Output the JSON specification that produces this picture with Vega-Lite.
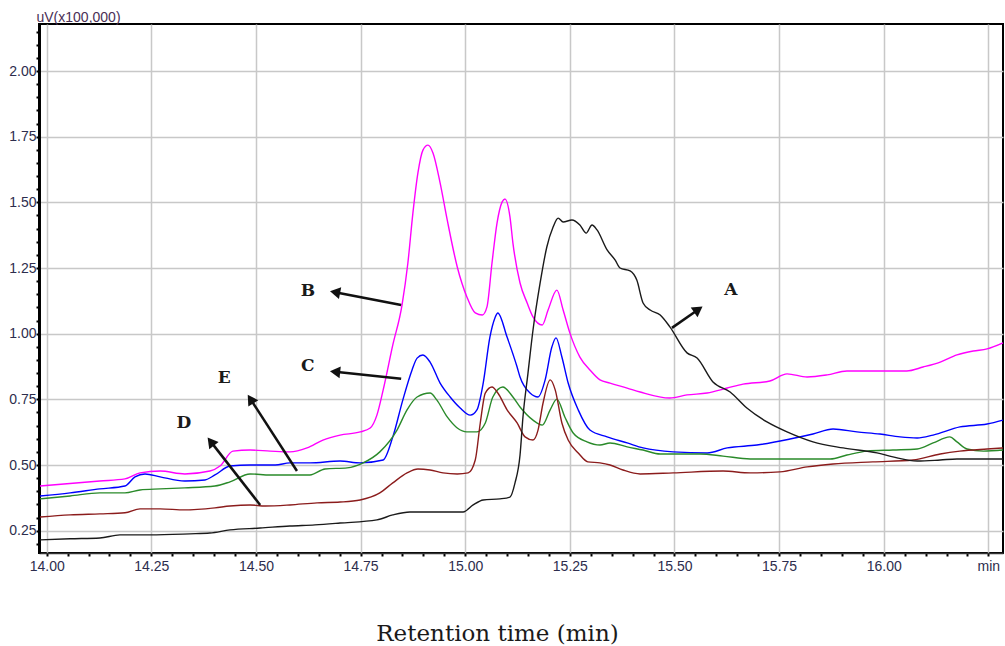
{
  "$schema": "https://vega.github.io/schema/vega-lite/v6.json",
  "autosize": {"type": "none"},
  "padding": {"left": 39, "top": 24, "right": 2, "bottom": 93},
  "width": 964,
  "height": 529,
  "background": "white",
  "config": {"view": {"stroke": "black", "strokeWidth": 2}},
  "datasets": {
    "curves": [
      {"s":"B","t":13.984,"v":0.420},{"s":"B","t":14.127,"v":0.439},{"s":"B","t":14.187,"v":0.447},{"s":"B","t":14.223,"v":0.470},{"s":"B","t":14.271,"v":0.477},{"s":"B","t":14.330,"v":0.466},{"s":"B","t":14.390,"v":0.477},{"s":"B","t":14.414,"v":0.496},{"s":"B","t":14.445,"v":0.553},{"s":"B","t":14.486,"v":0.557},{"s":"B","t":14.534,"v":0.553},{"s":"B","t":14.581,"v":0.550},{"s":"B","t":14.622,"v":0.565},{"s":"B","t":14.660,"v":0.595},{"s":"B","t":14.701,"v":0.614},{"s":"B","t":14.749,"v":0.626},{"s":"B","t":14.773,"v":0.641},{"s":"B","t":14.789,"v":0.690},{"s":"B","t":14.804,"v":0.786},{"s":"B","t":14.827,"v":0.957},{"s":"B","t":14.849,"v":1.109},{"s":"B","t":14.863,"v":1.269},{"s":"B","t":14.875,"v":1.459},{"s":"B","t":14.887,"v":1.612},{"s":"B","t":14.899,"v":1.699},{"s":"B","t":14.911,"v":1.718},{"s":"B","t":14.923,"v":1.688},{"s":"B","t":14.940,"v":1.574},{"s":"B","t":14.957,"v":1.433},{"s":"B","t":14.981,"v":1.254},{"s":"B","t":15.004,"v":1.140},{"s":"B","t":15.024,"v":1.079},{"s":"B","t":15.041,"v":1.071},{"s":"B","t":15.052,"v":1.102},{"s":"B","t":15.064,"v":1.269},{"s":"B","t":15.076,"v":1.421},{"s":"B","t":15.088,"v":1.501},{"s":"B","t":15.095,"v":1.513},{"s":"B","t":15.107,"v":1.444},{"s":"B","t":15.114,"v":1.345},{"s":"B","t":15.131,"v":1.193},{"s":"B","t":15.148,"v":1.117},{"s":"B","t":15.162,"v":1.064},{"s":"B","t":15.184,"v":1.033},{"s":"B","t":15.198,"v":1.090},{"s":"B","t":15.219,"v":1.166},{"s":"B","t":15.234,"v":1.090},{"s":"B","t":15.250,"v":1.003},{"s":"B","t":15.274,"v":0.911},{"s":"B","t":15.298,"v":0.862},{"s":"B","t":15.322,"v":0.824},{"s":"B","t":15.346,"v":0.812},{"s":"B","t":15.387,"v":0.793},{"s":"B","t":15.418,"v":0.778},{"s":"B","t":15.489,"v":0.755},{"s":"B","t":15.530,"v":0.767},{"s":"B","t":15.578,"v":0.774},{"s":"B","t":15.626,"v":0.793},{"s":"B","t":15.664,"v":0.808},{"s":"B","t":15.728,"v":0.820},{"s":"B","t":15.769,"v":0.847},{"s":"B","t":15.817,"v":0.835},{"s":"B","t":15.865,"v":0.843},{"s":"B","t":15.912,"v":0.858},{"s":"B","t":15.974,"v":0.858},{"s":"B","t":16.055,"v":0.858},{"s":"B","t":16.094,"v":0.873},{"s":"B","t":16.135,"v":0.892},{"s":"B","t":16.175,"v":0.919},{"s":"B","t":16.214,"v":0.934},{"s":"B","t":16.247,"v":0.942},{"s":"B","t":16.285,"v":0.965},

      {"s":"C","t":13.984,"v":0.382},{"s":"C","t":14.056,"v":0.394},{"s":"C","t":14.127,"v":0.409},{"s":"C","t":14.187,"v":0.420},{"s":"C","t":14.211,"v":0.455},{"s":"C","t":14.235,"v":0.466},{"s":"C","t":14.271,"v":0.455},{"s":"C","t":14.330,"v":0.439},{"s":"C","t":14.378,"v":0.443},{"s":"C","t":14.402,"v":0.462},{"s":"C","t":14.438,"v":0.496},{"s":"C","t":14.486,"v":0.500},{"s":"C","t":14.546,"v":0.500},{"s":"C","t":14.581,"v":0.508},{"s":"C","t":14.629,"v":0.508},{"s":"C","t":14.701,"v":0.515},{"s":"C","t":14.749,"v":0.508},{"s":"C","t":14.804,"v":0.519},{"s":"C","t":14.827,"v":0.607},{"s":"C","t":14.851,"v":0.748},{"s":"C","t":14.873,"v":0.862},{"s":"C","t":14.885,"v":0.907},{"s":"C","t":14.899,"v":0.919},{"s":"C","t":14.916,"v":0.892},{"s":"C","t":14.940,"v":0.812},{"s":"C","t":14.964,"v":0.759},{"s":"C","t":14.988,"v":0.717},{"s":"C","t":15.012,"v":0.690},{"s":"C","t":15.028,"v":0.710},{"s":"C","t":15.043,"v":0.812},{"s":"C","t":15.059,"v":0.987},{"s":"C","t":15.071,"v":1.060},{"s":"C","t":15.078,"v":1.079},{"s":"C","t":15.100,"v":0.987},{"s":"C","t":15.124,"v":0.873},{"s":"C","t":15.131,"v":0.835},{"s":"C","t":15.155,"v":0.774},{"s":"C","t":15.174,"v":0.759},{"s":"C","t":15.191,"v":0.824},{"s":"C","t":15.207,"v":0.949},{"s":"C","t":15.217,"v":0.984},{"s":"C","t":15.231,"v":0.911},{"s":"C","t":15.246,"v":0.812},{"s":"C","t":15.270,"v":0.710},{"s":"C","t":15.298,"v":0.633},{"s":"C","t":15.339,"v":0.607},{"s":"C","t":15.387,"v":0.584},{"s":"C","t":15.425,"v":0.565},{"s":"C","t":15.497,"v":0.550},{"s":"C","t":15.578,"v":0.546},{"s":"C","t":15.626,"v":0.565},{"s":"C","t":15.697,"v":0.576},{"s":"C","t":15.776,"v":0.599},{"s":"C","t":15.831,"v":0.618},{"s":"C","t":15.879,"v":0.637},{"s":"C","t":15.936,"v":0.626},{"s":"C","t":15.991,"v":0.618},{"s":"C","t":16.039,"v":0.607},{"s":"C","t":16.080,"v":0.603},{"s":"C","t":16.118,"v":0.614},{"s":"C","t":16.182,"v":0.645},{"s":"C","t":16.247,"v":0.656},{"s":"C","t":16.285,"v":0.671},

      {"s":"E","t":13.984,"v":0.371},{"s":"E","t":14.056,"v":0.382},{"s":"E","t":14.127,"v":0.394},{"s":"E","t":14.187,"v":0.394},{"s":"E","t":14.223,"v":0.405},{"s":"E","t":14.271,"v":0.409},{"s":"E","t":14.330,"v":0.413},{"s":"E","t":14.402,"v":0.420},{"s":"E","t":14.438,"v":0.436},{"s":"E","t":14.486,"v":0.466},{"s":"E","t":14.534,"v":0.462},{"s":"E","t":14.629,"v":0.462},{"s":"E","t":14.665,"v":0.485},{"s":"E","t":14.718,"v":0.489},{"s":"E","t":14.756,"v":0.508},{"s":"E","t":14.796,"v":0.550},{"s":"E","t":14.837,"v":0.633},{"s":"E","t":14.861,"v":0.710},{"s":"E","t":14.885,"v":0.759},{"s":"E","t":14.916,"v":0.774},{"s":"E","t":14.932,"v":0.748},{"s":"E","t":14.957,"v":0.683},{"s":"E","t":14.981,"v":0.641},{"s":"E","t":15.004,"v":0.626},{"s":"E","t":15.028,"v":0.626},{"s":"E","t":15.048,"v":0.660},{"s":"E","t":15.066,"v":0.759},{"s":"E","t":15.090,"v":0.797},{"s":"E","t":15.114,"v":0.759},{"s":"E","t":15.131,"v":0.721},{"s":"E","t":15.162,"v":0.671},{"s":"E","t":15.184,"v":0.652},{"s":"E","t":15.203,"v":0.710},{"s":"E","t":15.219,"v":0.751},{"s":"E","t":15.238,"v":0.683},{"s":"E","t":15.258,"v":0.622},{"s":"E","t":15.291,"v":0.588},{"s":"E","t":15.322,"v":0.576},{"s":"E","t":15.346,"v":0.584},{"s":"E","t":15.387,"v":0.569},{"s":"E","t":15.425,"v":0.557},{"s":"E","t":15.466,"v":0.542},{"s":"E","t":15.561,"v":0.542},{"s":"E","t":15.616,"v":0.534},{"s":"E","t":15.681,"v":0.523},{"s":"E","t":15.776,"v":0.523},{"s":"E","t":15.872,"v":0.523},{"s":"E","t":15.912,"v":0.538},{"s":"E","t":15.960,"v":0.553},{"s":"E","t":16.022,"v":0.557},{"s":"E","t":16.080,"v":0.561},{"s":"E","t":16.118,"v":0.584},{"s":"E","t":16.158,"v":0.607},{"s":"E","t":16.175,"v":0.588},{"s":"E","t":16.199,"v":0.561},{"s":"E","t":16.238,"v":0.553},{"s":"E","t":16.285,"v":0.557},

      {"s":"D","t":13.984,"v":0.302},{"s":"D","t":14.056,"v":0.310},{"s":"D","t":14.127,"v":0.314},{"s":"D","t":14.187,"v":0.318},{"s":"D","t":14.223,"v":0.333},{"s":"D","t":14.271,"v":0.333},{"s":"D","t":14.330,"v":0.329},{"s":"D","t":14.402,"v":0.337},{"s":"D","t":14.438,"v":0.344},{"s":"D","t":14.486,"v":0.348},{"s":"D","t":14.522,"v":0.344},{"s":"D","t":14.581,"v":0.348},{"s":"D","t":14.646,"v":0.356},{"s":"D","t":14.701,"v":0.359},{"s":"D","t":14.749,"v":0.367},{"s":"D","t":14.796,"v":0.394},{"s":"D","t":14.827,"v":0.432},{"s":"D","t":14.861,"v":0.470},{"s":"D","t":14.887,"v":0.485},{"s":"D","t":14.916,"v":0.481},{"s":"D","t":14.947,"v":0.470},{"s":"D","t":14.981,"v":0.466},{"s":"D","t":15.007,"v":0.470},{"s":"D","t":15.024,"v":0.519},{"s":"D","t":15.036,"v":0.660},{"s":"D","t":15.048,"v":0.774},{"s":"D","t":15.064,"v":0.797},{"s":"D","t":15.078,"v":0.774},{"s":"D","t":15.100,"v":0.710},{"s":"D","t":15.124,"v":0.660},{"s":"D","t":15.143,"v":0.607},{"s":"D","t":15.162,"v":0.595},{"s":"D","t":15.174,"v":0.633},{"s":"D","t":15.186,"v":0.736},{"s":"D","t":15.203,"v":0.824},{"s":"D","t":15.215,"v":0.786},{"s":"D","t":15.231,"v":0.660},{"s":"D","t":15.246,"v":0.595},{"s":"D","t":15.270,"v":0.546},{"s":"D","t":15.293,"v":0.512},{"s":"D","t":15.322,"v":0.508},{"s":"D","t":15.346,"v":0.500},{"s":"D","t":15.377,"v":0.481},{"s":"D","t":15.418,"v":0.466},{"s":"D","t":15.497,"v":0.470},{"s":"D","t":15.616,"v":0.477},{"s":"D","t":15.681,"v":0.470},{"s":"D","t":15.752,"v":0.474},{"s":"D","t":15.817,"v":0.493},{"s":"D","t":15.879,"v":0.504},{"s":"D","t":15.974,"v":0.512},{"s":"D","t":16.070,"v":0.519},{"s":"D","t":16.135,"v":0.542},{"s":"D","t":16.182,"v":0.553},{"s":"D","t":16.247,"v":0.561},{"s":"D","t":16.285,"v":0.565},

      {"s":"A","t":13.984,"v":0.215},{"s":"A","t":14.056,"v":0.219},{"s":"A","t":14.127,"v":0.222},{"s":"A","t":14.175,"v":0.234},{"s":"A","t":14.247,"v":0.234},{"s":"A","t":14.342,"v":0.238},{"s":"A","t":14.390,"v":0.241},{"s":"A","t":14.438,"v":0.253},{"s":"A","t":14.510,"v":0.260},{"s":"A","t":14.581,"v":0.268},{"s":"A","t":14.641,"v":0.272},{"s":"A","t":14.701,"v":0.279},{"s":"A","t":14.789,"v":0.291},{"s":"A","t":14.827,"v":0.310},{"s":"A","t":14.868,"v":0.321},{"s":"A","t":14.923,"v":0.321},{"s":"A","t":14.995,"v":0.321},{"s":"A","t":15.019,"v":0.348},{"s":"A","t":15.043,"v":0.367},{"s":"A","t":15.083,"v":0.371},{"s":"A","t":15.107,"v":0.378},{"s":"A","t":15.119,"v":0.432},{"s":"A","t":15.131,"v":0.538},{"s":"A","t":15.138,"v":0.683},{"s":"A","t":15.150,"v":0.850},{"s":"A","t":15.162,"v":1.014},{"s":"A","t":15.179,"v":1.193},{"s":"A","t":15.195,"v":1.330},{"s":"A","t":15.210,"v":1.406},{"s":"A","t":15.222,"v":1.440},{"s":"A","t":15.234,"v":1.425},{"s":"A","t":15.255,"v":1.433},{"s":"A","t":15.274,"v":1.414},{"s":"A","t":15.289,"v":1.383},{"s":"A","t":15.303,"v":1.414},{"s":"A","t":15.315,"v":1.395},{"s":"A","t":15.339,"v":1.319},{"s":"A","t":15.358,"v":1.281},{"s":"A","t":15.370,"v":1.250},{"s":"A","t":15.394,"v":1.239},{"s":"A","t":15.410,"v":1.204},{"s":"A","t":15.425,"v":1.117},{"s":"A","t":15.442,"v":1.090},{"s":"A","t":15.466,"v":1.071},{"s":"A","t":15.489,"v":1.026},{"s":"A","t":15.530,"v":0.927},{"s":"A","t":15.554,"v":0.907},{"s":"A","t":15.592,"v":0.816},{"s":"A","t":15.633,"v":0.778},{"s":"A","t":15.673,"v":0.717},{"s":"A","t":15.721,"v":0.664},{"s":"A","t":15.769,"v":0.626},{"s":"A","t":15.831,"v":0.588},{"s":"A","t":15.903,"v":0.565},{"s":"A","t":15.984,"v":0.546},{"s":"A","t":16.022,"v":0.531},{"s":"A","t":16.080,"v":0.515},{"s":"A","t":16.135,"v":0.519},{"s":"A","t":16.175,"v":0.523},{"s":"A","t":16.285,"v":0.523}
    ],
    "notes": [
      {"label":"B","lx":14.624,"ly":1.162,"tx":14.847,"ty":1.109,"hx":14.689,"hy":1.158,"dir":281},
      {"label":"C","lx":14.624,"ly":0.877,"tx":14.847,"ty":0.828,"hx":14.689,"hy":0.855,"dir":276},
      {"label":"E","lx":14.424,"ly":0.831,"tx":14.598,"ty":0.477,"hx":14.487,"hy":0.751,"dir":327},
      {"label":"D","lx":14.328,"ly":0.660,"tx":14.510,"ty":0.348,"hx":14.392,"hy":0.589,"dir":322},
      {"label":"A","lx":15.635,"ly":1.166,"tx":15.494,"ty":1.022,"hx":15.557,"hy":1.092,"dir":55}
    ]
  },
  "layer": [
    {
      "data": {"name": "curves"},
      "mark": {"type": "line", "strokeWidth": 1.4, "interpolate": "monotone"},
      "encoding": {
        "x": {
          "field": "t", "type": "quantitative",
          "scale": {"domain": [13.9816, 16.285], "nice": false, "zero": false},
          "axis": {
            "values": [14,14.05,14.1,14.15,14.2,14.25,14.3,14.35,14.4,14.45,14.5,14.55,14.6,14.65,14.7,14.75,14.8,14.85,14.9,14.95,15,15.05,15.1,15.15,15.2,15.25,15.3,15.35,15.4,15.45,15.5,15.55,15.6,15.65,15.7,15.75,15.8,15.85,15.9,15.95,16,16.05,16.1,16.15,16.2,16.25],
            "tickCount": 200,
            "grid": true,
            "gridColor": "#c8c8c8",
            "gridWidth": 1.5,
            "gridOpacity": {"condition": {"test": "abs(datum.value*4-round(datum.value*4))<0.001", "value": 1}, "value": 0},
            "labelExpr": "abs(datum.value*4-round(datum.value*4))<0.001 ? (datum.value>16.2 ? 'min' : format(datum.value,'.2f')) : ''",
            "labelFont": "Liberation Sans",
            "labelFontSize": 14,
            "labelColor": "#2d2d4d",
            "labelPadding": 3,
            "labelFlush": false,
            "labelOverlap": false,
            "domainColor": "#333333",
            "domainWidth": 1.5,
            "tickColor": "black",
            "tickSize": 3,
            "tickWidth": 2,
            "title": "Retention time (min)",
            "titleFont": "DejaVu Serif",
            "titleFontSize": 23,
            "titleFontWeight": "normal",
            "titleColor": "#1a1a1a",
            "titleX": 458,
            "titleY": 87,
            "titleAlign": "center",
            "titleBaseline": "alphabetic"
          }
        },
        "y": {
          "field": "v", "type": "quantitative",
          "scale": {"domain": [0.165, 2.179], "nice": false, "zero": false},
          "axis": {
            "values": [0.2,0.25,0.3,0.35,0.4,0.45,0.5,0.55,0.6,0.65,0.7,0.75,0.8,0.85,0.9,0.95,1,1.05,1.1,1.15,1.2,1.25,1.3,1.35,1.4,1.45,1.5,1.55,1.6,1.65,1.7,1.75,1.8,1.85,1.9,1.95,2,2.05,2.1,2.15],
            "tickCount": 200,
            "grid": true,
            "gridColor": "#c8c8c8",
            "gridWidth": 1.5,
            "gridOpacity": {"condition": {"test": "abs(datum.value*4-round(datum.value*4))<0.001", "value": 1}, "value": 0},
            "labelExpr": "abs(datum.value*4-round(datum.value*4))<0.001 ? format(datum.value,'.2f') : ''",
            "labelFont": "Liberation Sans",
            "labelFontSize": 14,
            "labelColor": "#2d2d4d",
            "labelPadding": 0,
            "labelOverlap": false,
            "labelFlush": false,
            "domainColor": "black",
            "domainWidth": 3,
            "tickColor": "black",
            "tickSize": 3,
            "tickWidth": 2,
            "title": "uV(x100,000)",
            "titleFont": "Liberation Sans",
            "titleFontSize": 14,
            "titleFontWeight": "normal",
            "titleColor": "#4a2f55",
            "titleAngle": 0,
            "titleAlign": "left",
            "titleBaseline": "alphabetic",
            "titleX": -3,
            "titleY": -3
          }
        },
        "color": {
          "field": "s", "type": "nominal",
          "scale": {"domain": ["A","B","C","D","E"], "range": ["#1a1a1a","#ff00ff","#0000ff","#8b1c1c","#2a8a2a"]},
          "legend": null
        },
        "detail": {"field": "s"}
      }
    },
    {
      "data": {"name": "notes"},
      "mark": {"type": "rule", "strokeWidth": 2.5, "color": "#111111"},
      "encoding": {
        "x": {"field": "tx", "type": "quantitative"},
        "y": {"field": "ty", "type": "quantitative"},
        "x2": {"field": "hx"},
        "y2": {"field": "hy"}
      }
    },
    {
      "data": {"name": "notes"},
      "mark": {"type": "point", "shape": "triangle-up", "filled": true, "size": 140, "color": "#111111", "opacity": 1},
      "encoding": {
        "x": {"field": "hx", "type": "quantitative"},
        "y": {"field": "hy", "type": "quantitative"},
        "angle": {"field": "dir", "type": "quantitative", "scale": null}
      }
    },
    {
      "data": {"name": "notes"},
      "mark": {"type": "text", "font": "DejaVu Serif", "fontWeight": "bold", "fontSize": 17, "color": "#1a1a1a", "align": "center", "baseline": "middle"},
      "encoding": {
        "x": {"field": "lx", "type": "quantitative"},
        "y": {"field": "ly", "type": "quantitative"},
        "text": {"field": "label"}
      }
    }
  ]
}
